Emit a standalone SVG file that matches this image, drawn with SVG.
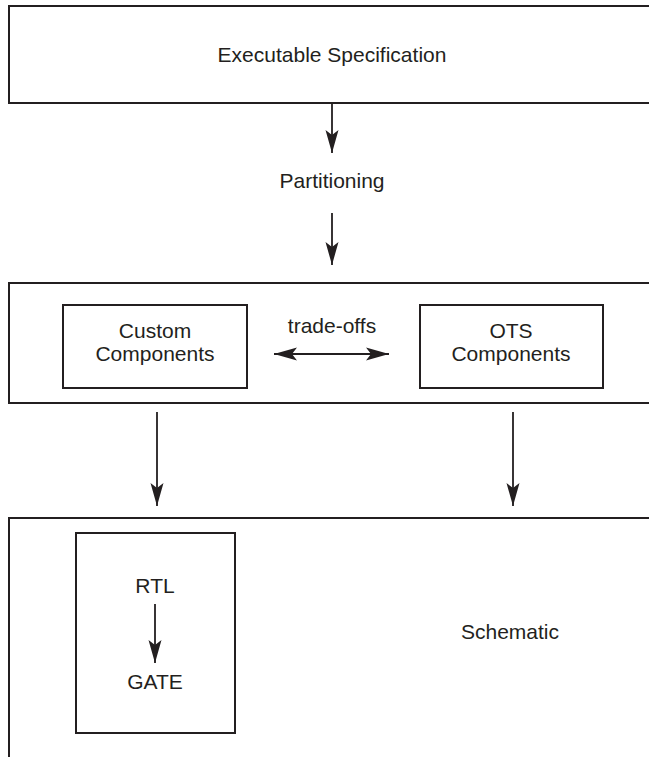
<svg xmlns="http://www.w3.org/2000/svg" width="649" height="757" viewBox="0 0 649 757">
<style>
.box{fill:none;stroke:#231f20;stroke-width:2}
.ln{fill:none;stroke:#231f20;stroke-width:1.8}
.t{font-family:"Liberation Sans",Arial,sans-serif;font-size:21px;fill:#231f20;text-anchor:middle}
</style>
<defs>
<marker id="ah" viewBox="0 0 24 14" refX="23" refY="7" markerWidth="24" markerHeight="14" markerUnits="userSpaceOnUse" orient="auto-start-reverse">
<path d="M0,0.5 L23,7 L0,13.5 L5,7 Z" fill="#231f20"/>
</marker>
</defs>
<rect width="649" height="757" fill="#ffffff"/>
<g id="spec">
<rect class="box" x="9" y="6" width="660" height="97"/>
<text class="t" x="332" y="62">Executable Specification</text>
</g>
<g id="partitioning">
<text class="t" x="332" y="188">Partitioning</text>
</g>
<g id="components">
<rect class="box" x="9" y="283" width="660" height="120"/>
</g>
<g id="custom">
<rect class="box" x="63" y="305" width="184" height="83"/>
<text class="t" x="155" y="338">Custom</text>
<text class="t" x="155" y="361">Components</text>
</g>
<g id="ots">
<rect class="box" x="420" y="305" width="183" height="83"/>
<text class="t" x="511" y="338">OTS</text>
<text class="t" x="511" y="361">Components</text>
</g>
<g id="tradeoffs">
<text class="t" x="332" y="333">trade-offs</text>
</g>
<g id="implementation">
<rect class="box" x="9" y="518" width="660" height="260"/>
</g>
<g id="rtlgate">
<rect class="box" x="76" y="533" width="159" height="200"/>
<text class="t" x="155" y="593">RTL</text>
<text class="t" x="155" y="689">GATE</text>
</g>
<g id="schematic">
<text class="t" x="510" y="639">Schematic</text>
</g>
<g id="connectors">
<line class="ln" x1="332" y1="103" x2="332" y2="153" marker-end="url(#ah)"/>
<line class="ln" x1="332" y1="213" x2="332" y2="265" marker-end="url(#ah)"/>
<line class="ln" x1="274" y1="354" x2="389" y2="354" marker-start="url(#ah)" marker-end="url(#ah)"/>
<line class="ln" x1="157" y1="412" x2="157" y2="506" marker-end="url(#ah)"/>
<line class="ln" x1="513" y1="412" x2="513" y2="506" marker-end="url(#ah)"/>
<line class="ln" x1="155" y1="604" x2="155" y2="663" marker-end="url(#ah)"/>
</g>
</svg>
